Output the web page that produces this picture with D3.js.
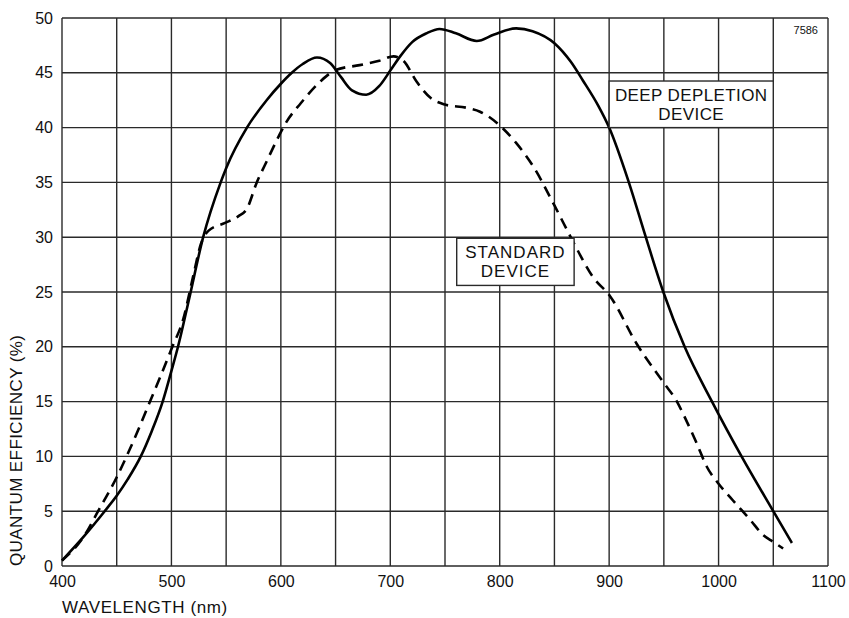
<!DOCTYPE html>
<html>
<head>
<meta charset="utf-8">
<script src="https://cdn.jsdelivr.net/npm/d3@7"></script>
<style>
  body { margin: 0; background: #fff; }
  text { font-family: "Liberation Sans", Arial, Helvetica, sans-serif; fill: #111; }
  .grid line { stroke: #2a2a2a; stroke-width: 1.4; }
  .curve { fill: none; stroke: #000; stroke-width: 2.6; stroke-linejoin: round; }
</style>
</head>
<body>
<svg id="chart"></svg>
<script>
// Tick values
const xTicks = [400, 500, 600, 700, 800, 900, 1000, 1100];
const xGrid = d3.range(400, 1101, 50);
const yTicks = d3.range(0, 51, 5);

// Deep depletion device (solid) : [wavelength nm, QE %]
const deepDepletion = [
  [400, 0.5], [420, 2.7], [439, 5.0], [450, 6.4], [460, 7.9], [472, 10], [482, 12.3],
  [492, 15], [500, 17.8], [506, 20], [516, 24.3], [529, 30], [545, 35], [550, 36.3],
  [569, 40], [587, 42.5], [600, 44.0], [610, 45.0], [620, 45.8], [633, 46.4], [645, 45.9],
  [655, 44.6], [665, 43.4], [678, 43.0], [690, 43.8], [700, 45.2], [709, 46.5], [720, 47.8],
  [733, 48.6], [745, 49.0], [760, 48.6], [779, 47.9], [795, 48.5], [815, 49.05], [830, 48.8],
  [850, 47.7], [865, 46.0], [876, 44.3], [890, 42.0], [900, 40.0], [918, 35], [933.5, 30],
  [949.5, 25], [969, 20], [994, 15], [1021, 10], [1050, 5], [1067, 2.1]
];

// Standard device (dashed)
const standardDevice = [
  [400, 0.5], [420, 2.7], [433, 5], [450, 8.1], [459, 10], [470, 12.5], [480.4, 15],
  [490, 17.3], [500, 19.8], [511, 22.6], [520, 26.5], [527, 29.4], [534, 30.6], [549, 31.3],
  [561, 31.9], [569, 32.6], [578, 35.0], [586, 36.7], [598, 39.2], [605, 40.5], [618, 42.2],
  [636, 44.2], [650, 45.25], [672, 45.7], [690, 46.1], [703, 46.5], [712, 46.1], [724, 44.2],
  [737, 42.7], [750, 42.1], [770, 41.8], [782, 41.45], [800, 40.2], [815, 38.6], [831, 36.4],
  [850, 32.9], [867, 29.6], [885, 26.4], [901, 24.6], [925, 20.3], [950, 16.7], [962, 15.0],
  [968, 13.8], [980, 11.2], [989, 9.1], [1000, 7.5], [1013, 6.0], [1029, 4.2], [1041, 2.8],
  [1050, 2.2], [1059, 1.6]
];

const width = 849, height = 618;
const margin = {top: 18, right: 21, bottom: 52, left: 62};
const w = width - margin.left - margin.right;
const h = height - margin.top - margin.bottom;

const svg = d3.select('#chart')
    .attr('width', width)
    .attr('height', height);

svg.append('rect').attr('width', width).attr('height', height).attr('fill', '#fff');

const x = d3.scaleLinear().domain([400, 1100]).range([0, w]);
const y = d3.scaleLinear().domain([0, 50]).range([h, 0]);

const chart = svg.append('g')
    .attr('transform', `translate(${margin.left},${margin.top})`);

// grid
const grid = chart.append('g').attr('class', 'grid');
grid.selectAll('.vx').data(xGrid).join('line')
    .attr('x1', d => x(d)).attr('x2', d => x(d))
    .attr('y1', 0).attr('y2', h);
grid.selectAll('.hy').data(yTicks).join('line')
    .attr('class', 'hy')
    .attr('x1', 0).attr('x2', w)
    .attr('y1', d => y(d)).attr('y2', d => y(d));

// axes (labels only, grid draws the lines)
const xAxis = d3.axisBottom(x).tickValues(xTicks).tickSize(0).tickPadding(10).tickFormat(d3.format('d'));
const yAxis = d3.axisLeft(y).tickValues(yTicks).tickSize(0).tickPadding(9).tickFormat(d3.format('d'));

const xAxisG = chart.append('g').attr('transform', `translate(0,${h})`).call(xAxis);
const yAxisG = chart.append('g').call(yAxis);
[xAxisG, yAxisG].forEach(g => {
  g.select('.domain').remove();
  g.selectAll('text').style('font-size', '16px').attr('fill', '#111');
  g.attr('font-family', null);
});

// axis titles
svg.append('text')
    .attr('x', margin.left)
    .attr('y', 613)
    .style('font-size', '17px')
    .style('letter-spacing', '0.6px')
    .text('WAVELENGTH (nm)');

svg.append('text')
    .attr('transform', `translate(22,${margin.top + h}) rotate(-90)`)
    .style('font-size', '17px')
    .style('letter-spacing', '0.4px')
    .text('QUANTUM EFFICIENCY (%)');

svg.append('text')
    .attr('x', 818)
    .attr('y', 34)
    .attr('text-anchor', 'end')
    .style('font-size', '11px')
    .text('7586');

// curves
const line = d3.line()
    .x(d => x(d[0]))
    .y(d => y(d[1]))
    .curve(d3.curveMonotoneX);

chart.append('path')
    .datum(standardDevice)
    .attr('class', 'curve')
    .attr('stroke-dasharray', '11,7')
    .attr('d', line);

chart.append('path')
    .datum(deepDepletion)
    .attr('class', 'curve')
    .attr('d', line);

// labelled boxes
const annotations = [
  {lines: ['DEEP DEPLETION', 'DEVICE'], x0: 900, x1: 1050, y0: 40, y1: 44.25, spacing: '0.4px'},
  {lines: ['STANDARD', 'DEVICE'], x0: 760.7, x1: 868, y0: 25.6, y1: 29.9, spacing: '1px'}
];

annotations.forEach(a => {
  const g = chart.append('g');
  g.append('rect')
      .attr('x', x(a.x0)).attr('y', y(a.y1))
      .attr('width', x(a.x1) - x(a.x0))
      .attr('height', y(a.y0) - y(a.y1))
      .attr('fill', '#fff')
      .attr('stroke', '#2a2a2a')
      .attr('stroke-width', 1.4);
  const cx = (x(a.x0) + x(a.x1)) / 2;
  const top = y(a.y1);
  g.selectAll('text').data(a.lines).join('text')
      .attr('x', cx)
      .attr('y', (d, i) => top + 20 + i * 19)
      .attr('text-anchor', 'middle')
      .style('font-size', '17px')
      .style('letter-spacing', a.spacing)
      .text(d => d);
});
</script>
</body>
</html>
